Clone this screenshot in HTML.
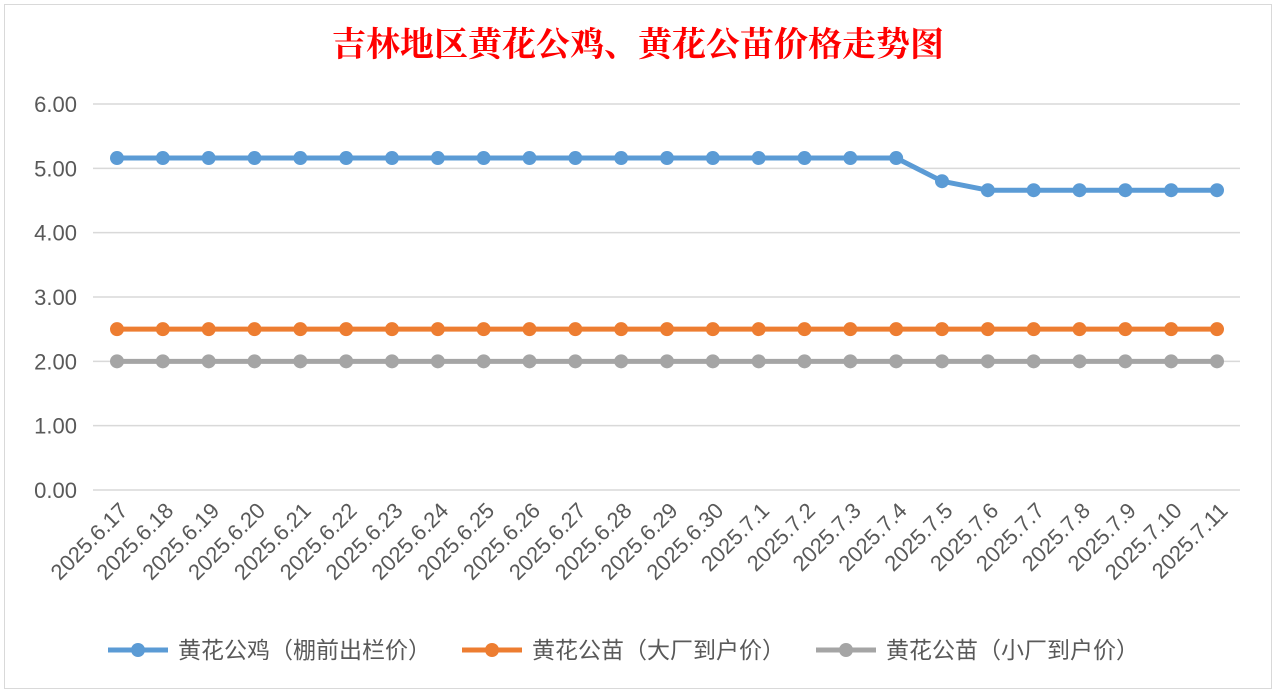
<!DOCTYPE html>
<html><head><meta charset="utf-8"><style>
html,body{margin:0;padding:0;background:#fff;width:1276px;height:693px;overflow:hidden}
svg{display:block}
</style></head><body>
<svg id="chart" width="1276" height="693" xmlns="http://www.w3.org/2000/svg" font-family="'Liberation Sans','Noto Sans CJK SC',sans-serif">
<rect x="4.5" y="4.5" width="1267" height="684" fill="#fff" stroke="#d9d9d9"/>
<text x="638" y="56" text-anchor="middle" font-size="34" font-weight="bold" fill="#ff0000" font-family="'Liberation Serif','Noto Serif CJK SC',serif">吉林地区黄花公鸡、黄花公苗价格走势图</text>
<g id="grid"></g><g id="yticks"></g><g id="xticks"></g><g id="series"></g>
<g id="legend"></g>
</svg>
<script>
const categories=["2025.6.17","2025.6.18","2025.6.19","2025.6.20","2025.6.21","2025.6.22","2025.6.23","2025.6.24","2025.6.25","2025.6.26","2025.6.27","2025.6.28","2025.6.29","2025.6.30","2025.7.1","2025.7.2","2025.7.3","2025.7.4","2025.7.5","2025.7.6","2025.7.7","2025.7.8","2025.7.9","2025.7.10","2025.7.11"];
const roosterPrice=[5.16,5.16,5.16,5.16,5.16,5.16,5.16,5.16,5.16,5.16,5.16,5.16,5.16,5.16,5.16,5.16,5.16,5.16,4.8,4.66,4.66,4.66,4.66,4.66,4.66];
const chickBigPrice=[2.5,2.5,2.5,2.5,2.5,2.5,2.5,2.5,2.5,2.5,2.5,2.5,2.5,2.5,2.5,2.5,2.5,2.5,2.5,2.5,2.5,2.5,2.5,2.5,2.5];
const chickSmallPrice=[2,2,2,2,2,2,2,2,2,2,2,2,2,2,2,2,2,2,2,2,2,2,2,2,2];
const yTicks=[0,1,2,3,4,5,6];
const seriesNames=["黄花公鸡（棚前出栏价）","黄花公苗（大厂到户价）","黄花公苗（小厂到户价）"];
const NS="http://www.w3.org/2000/svg";
const x0=117,x1=1217,yBase=490,yTop=104,yMax=6,plotL=93,plotR=1240;
const xs=i=>x0+i*(x1-x0)/(categories.length-1);
const ys=v=>yBase-v*(yBase-yTop)/yMax;
function mk(t,a,p){const e=document.createElementNS(NS,t);for(const k in a)e.setAttribute(k,a[k]);p.appendChild(e);return e;}
const grid=document.getElementById('grid'),yt=document.getElementById('yticks'),xt=document.getElementById('xticks'),sg=document.getElementById('series'),lg=document.getElementById('legend');
yTicks.forEach(v=>{
 const l=mk('line',{x1:plotL,x2:plotR,y1:ys(v),y2:ys(v),stroke:'#d9d9d9','stroke-width':1.5},grid);
 
 
 const t=mk('text',{x:77,y:ys(v)+8,'text-anchor':'end','font-size':22,fill:'#595959'},yt);
 t.textContent=v.toFixed(2);
 
 
});
categories.forEach((c,i)=>{
 const t=mk('text',{x:xs(i)+12,y:512,'text-anchor':'end','font-size':22,fill:'#595959',transform:`rotate(-45 ${xs(i)+12} 512)`},xt);
 t.textContent=c;
 
 
});
const colors=['#5b9bd5','#ed7d31','#a5a5a5'];
[roosterPrice,chickBigPrice,chickSmallPrice].forEach((d,s)=>{
 const g=mk('g',{},sg);
 
 
 const p=mk('polyline',{points:d.map((v,i)=>xs(i)+','+ys(v)).join(' '),fill:'none',stroke:colors[s],'stroke-width':5,'stroke-linejoin':'round'},g);
 
 
 d.forEach((v,i)=>{
  const c=mk('circle',{cx:xs(i),cy:ys(v),r:7,fill:colors[s]},g);
  
  
 });
});
const legX=[108,462,816];
seriesNames.forEach((n,s)=>{
 const g=mk('g',{},lg);
 
 
 mk('line',{x1:legX[s],x2:legX[s]+60,y1:650,y2:650,stroke:colors[s],'stroke-width':5},g);
 mk('circle',{cx:legX[s]+30,cy:650,r:7,fill:colors[s]},g);
 const t=mk('text',{x:legX[s]+70,y:658,'font-size':23,fill:'#595959'},g);
 t.textContent=n;
});
</script>
</body></html>
